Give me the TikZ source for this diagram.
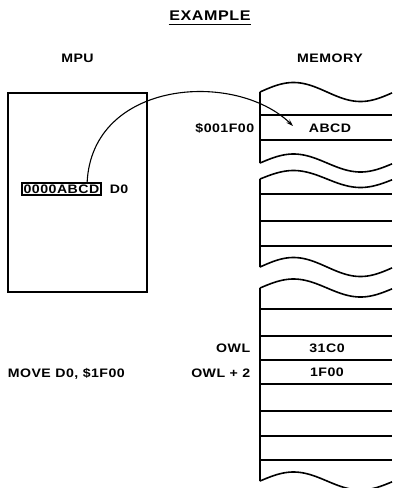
\documentclass[tikz,border=0pt]{standalone}
\usepackage{fontspec}
\setmainfont{Liberation Sans}[FakeStretch=1.15, LetterSpace=4]
\usetikzlibrary{arrows.meta,calc}
\begin{document}
\begin{tikzpicture}[x=1pt,y=-1pt, line width=1.6pt,
  lbl/.style={font=\fontsize{12.3}{14}\selectfont\bfseries, inner sep=0pt},
  ttl/.style={font=\fontsize{14}{16}\selectfont\bfseries, inner sep=0pt},
  memline/.style={line width=1.6pt},
  link/.style={line width=1.1pt, -{Stealth[length=7pt,width=4.5pt]}}]
\useasboundingbox (0,0) rectangle (392,488);
% title
\node[ttl] (title) at (210,16) {EXAMPLE};
\draw[line width=1.2pt] ([yshift=-2.5pt]title.south west) -- ([yshift=-2.5pt]title.south east);
\node[lbl] (mpulbl) at (77.5,58.5) {MPU};
\node[lbl] (memlbl) at (330,58.5) {MEMORY};
% MPU box
\node[draw, line width=1.6pt, minimum width=139pt, minimum height=199pt, inner sep=0pt] (mpu) at (77.5,192.5) {};
\node[lbl, draw, line width=1.1pt, inner sep=1.6pt] (reg) at (61.5,189) {0000ABCD};
\node[lbl, anchor=west] (d0) at (109,189) {D0};
\node[lbl, anchor=west] (move) at (7,374) {MOVE D0, \$1F00};
% memory section 1
\draw[memline] (260,163) -- (260,92) plot[domain=260:392, samples=60, smooth] (\x,{92-9.5*sin(2.68657*(\x-260))});
\draw[memline] plot[domain=260:392, samples=60, smooth] (\x,{163-9*sin(2.68657*(\x-260))});
\draw[memline] (260,115) -- (392,115);
\draw[memline] (260,140) -- (392,140);
% memory section 2
\draw[memline] (260,267) -- (260,179) plot[domain=260:392, samples=60, smooth] (\x,{179-8.5*sin(2.68657*(\x-260))});
\draw[memline] plot[domain=260:392, samples=60, smooth] (\x,{267-9.5*sin(2.68657*(\x-260))});
\foreach \yy in {194,221,246} \draw[memline] (260,\yy) -- (392,\yy);
% memory section 3
\draw[memline] (260,481) -- (260,288) plot[domain=260:392, samples=60, smooth] (\x,{288-9*sin(2.68657*(\x-260))});
\draw[memline] plot[domain=260:392, samples=60, smooth] (\x,{481-9*sin(2.68657*(\x-260))});
\foreach \yy in {309,336,360,384,411,436,460} \draw[memline] (260,\yy) -- (392,\yy);
% memory labels and contents
\node[lbl, anchor=east] (addr) at (255,128) {\$001F00};
\node[lbl] (abcd) at (330,128) {ABCD};
\node[lbl, anchor=east] (owl) at (251,348) {OWL};
\node[lbl, anchor=east] (owl2) at (251,373) {OWL + 2};
\node[lbl] (op1) at (327,348) {31C0};
\node[lbl] (op2) at (327,372) {1F00};
% arrow
\coordinate (tip) at (293,126);
\draw[link] ($(reg.north west)!0.82!(reg.north east)$) .. controls (92,80) and (235,70) .. (tip);
\end{tikzpicture}
\end{document}
